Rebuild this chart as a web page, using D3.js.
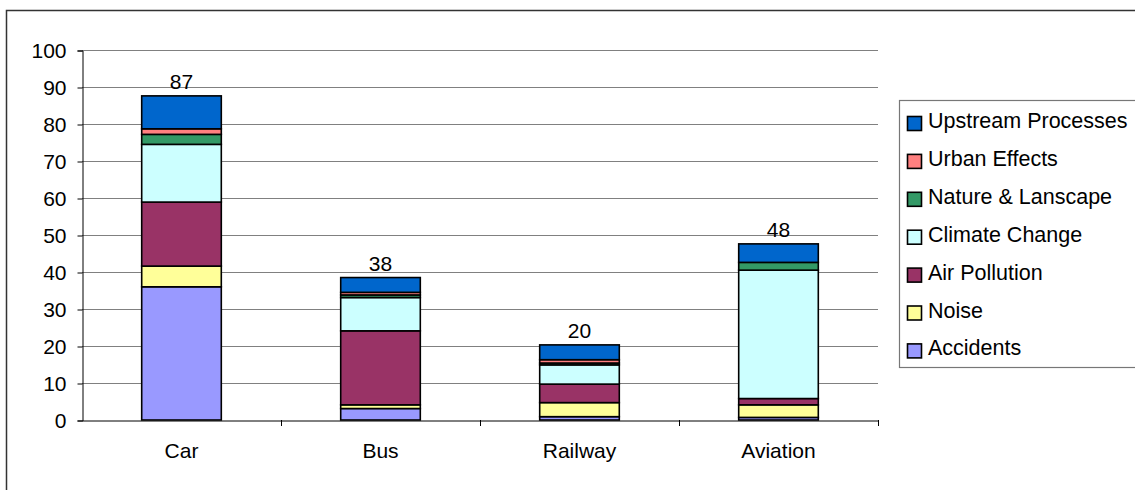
<!DOCTYPE html>
<html><head><meta charset="utf-8">
<script src="https://cdn.jsdelivr.net/npm/d3@7"></script>
<style>body{margin:0;background:#fff}svg{display:block}text{font-family:"Liberation Sans",Arial,sans-serif;fill:#000}</style>
</head><body><svg id="c" width="1135" height="490"></svg>
<script>
const categories = ["Car","Bus","Railway","Aviation"];
const seriesNames = ["Accidents","Noise","Air Pollution","Climate Change","Nature & Lanscape","Urban Effects","Upstream Processes"];
const accidents = [36.0, 3.1, 0.9, 0.7];
const noise = [5.6, 1.0, 3.8, 3.4];
const airPollution = [17.3, 20.0, 5.0, 1.7];
const climateChange = [15.6, 9.0, 5.2, 34.7];
const nature = [2.7, 0.7, 0.5, 2.1];
const urban = [1.5, 0.7, 0.9, 0.0];
const upstream = [8.9, 4.0, 4.0, 5.0];
const totalLabels = ["87","38","20","48"];
const yTicks = [0,10,20,30,40,50,60,70,80,90,100];
const colors = ["#9999ff","#ffff99","#993366","#ccffff","#339966","#ff8080","#0066cc"];

const seriesValues = [accidents, noise, airPollution, climateChange, nature, urban, upstream];
const rows = categories.map((c,i)=>{const r={cat:c}; seriesNames.forEach((s,j)=>r[s]=seriesValues[j][i]); return r;});
const stacked = d3.stack().keys(seriesNames)(rows);
const FS = 21;

const svg = d3.select("#c");
svg.append("rect").attr("x",6.5).attr("y",10.5).attr("width",1140).attr("height",490).attr("fill","none").attr("stroke","#333").attr("stroke-width",1.5);

const pLeft=82, pRight=878, pTop=50, pBottom=420;
const x = d3.scaleBand().domain(categories).range([pLeft,pRight]).paddingInner(0.6).paddingOuter(0.3);
const xb = d3.scaleBand().domain(categories).range([pLeft,pRight]);
const y = d3.scaleLinear().domain([0,100]).range([pBottom,pTop]);

svg.append("g").selectAll("line").data(yTicks.filter(t=>t>0)).join("line")
  .attr("x1",pLeft).attr("x2",pRight).attr("y1",d=>y(d)+0.5).attr("y2",d=>y(d)+0.5)
  .attr("stroke","#808080").attr("stroke-width",1);

const ya = svg.append("g").attr("transform",`translate(${pLeft+0.5},0.5)`)
  .call(d3.axisLeft(y).tickValues(yTicks).tickSize(5).tickPadding(11).tickFormat(d3.format("d")));
ya.select(".domain").attr("stroke","#000");
ya.selectAll(".tick line").attr("stroke","#000");
ya.selectAll("text").attr("font-size",FS).attr("font-family","Liberation Sans, Arial, sans-serif");

const xa = svg.append("g").attr("transform",`translate(0,${pBottom+0.5})`)
  .call(d3.axisBottom(xb).tickSize(0).tickPadding(23));
xa.select(".domain").attr("stroke","#000");
xa.selectAll("text").attr("font-size",FS).attr("font-family","Liberation Sans, Arial, sans-serif");
svg.append("g").selectAll("line").data(categories).join("line")
  .attr("x1",d=>xb(d)+xb.bandwidth()+0.5).attr("x2",d=>xb(d)+xb.bandwidth()+0.5)
  .attr("y1",pBottom).attr("y2",pBottom+6).attr("stroke","#000");

svg.append("g").selectAll("g").data(stacked).join("g")
  .attr("fill",(d,i)=>colors[i])
  .selectAll("rect").data(d=>d).join("rect")
  .attr("x",d=>x(d.data.cat)).attr("width",x.bandwidth())
  .attr("y",d=>y(d[1])).attr("height",d=>Math.max(0,y(d[0])-y(d[1])))
  .attr("stroke","#000").attr("stroke-width",1.6);

const topSeries = stacked[stacked.length-1];
svg.append("g").selectAll("text").data(topSeries).join("text")
  .attr("x",d=>x(d.data.cat)+x.bandwidth()/2).attr("y",d=>y(d[1])-7)
  .attr("text-anchor","middle").attr("font-size",FS)
  .text((d,i)=>totalLabels[i]);

const lg = svg.append("g");
lg.append("rect").attr("x",899.5).attr("y",100.5).attr("width",250).attr("height",267).attr("fill","none").attr("stroke","#777").attr("stroke-width",1.2);
const items = seriesNames.map((s,i)=>({s,c:colors[i]})).reverse();
const li = lg.selectAll("g").data(items).join("g").attr("transform",(d,i)=>`translate(907,${123+i*37.9})`);
li.append("rect").attr("x",0.5).attr("y",-6.5).attr("width",14).attr("height",14).attr("fill",d=>d.c).attr("stroke","#000").attr("stroke-width",1.6);
li.append("text").attr("x",21).attr("y",5).attr("font-size",21.5).text(d=>d.s);
</script></body></html>
